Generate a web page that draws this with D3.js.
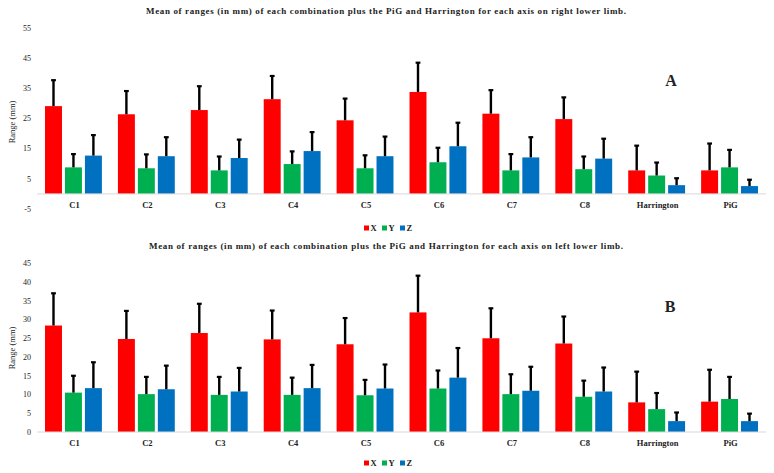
<!DOCTYPE html>
<html>
<head>
<meta charset="utf-8">
<script src="https://cdn.jsdelivr.net/npm/d3@7/dist/d3.min.js"></script>
<style>
  body { margin: 0; background: #fff; }
  text { font-family: "Liberation Serif", "DejaVu Serif", serif; fill: #222; }
  .title { font-weight: bold; font-size: 9px; }
  .tick-label { font-size: 8px; }
  .cat-label { font-size: 8.5px; font-weight: bold; }
  .legend-label { font-size: 8.5px; font-weight: bold; }
  .panel-tag { font-size: 16px; font-weight: bold; }
</style>
</head>
<body>
<svg id="chart" width="774" height="473"></svg>
<script>
const categories = ['C1', 'C2', 'C3', 'C4', 'C5', 'C6', 'C7', 'C8', 'Harrington', 'PiG']
const axes = ['X', 'Y', 'Z']
const colors = ['#ff0000', '#00b050', '#0070c0']

// panel A, right lower limb: means and upper error (SD)
const rightX = [29.1, 26.4, 27.8, 31.4, 24.4, 33.8, 26.6, 24.8, 7.8, 7.8]
const rightY = [8.8, 8.5, 7.8, 9.9, 8.5, 10.5, 7.8, 8.2, 6.1, 8.8]
const rightZ = [12.7, 12.5, 11.9, 14.2, 12.5, 15.8, 12.1, 11.7, 2.9, 2.6]
const rightXErr = [8.6, 7.7, 7.9, 7.7, 7.2, 9.7, 7.8, 7.2, 8.2, 8.9]
const rightYErr = [4.4, 4.6, 4.6, 4.2, 4.3, 4.8, 5.4, 4.2, 4.3, 5.8]
const rightZErr = [6.8, 6.3, 6.1, 6.3, 6.5, 7.8, 6.7, 6.6, 2.3, 2.1]

// panel B, left lower limb
const leftX = [28.4, 24.8, 26.4, 24.7, 23.4, 31.9, 25.0, 23.6, 7.9, 8.1]
const leftY = [10.5, 10.1, 9.9, 9.9, 9.8, 11.6, 10.1, 9.4, 6.1, 8.8]
const leftZ = [11.7, 11.4, 10.8, 11.7, 11.6, 14.5, 11.0, 10.8, 2.9, 2.9]
const leftXErr = [8.6, 7.5, 7.8, 7.7, 7.0, 9.8, 8.0, 7.2, 8.2, 8.5]
const leftYErr = [4.5, 4.6, 4.8, 4.6, 4.1, 4.8, 5.3, 4.3, 4.3, 5.9]
const leftZErr = [6.9, 6.3, 6.3, 6.2, 6.4, 7.9, 6.4, 6.4, 2.3, 2.0]

const topTicks = [-5, 5, 15, 25, 35, 45, 55]
const bottomTicks = [0, 5, 10, 15, 20, 25, 30, 35, 40, 45]

let svg = d3.select('#chart')

function drawPanel (opts) {
  let g = svg.append('g')

  let x0 = d3.scaleBand().domain(categories)
    .range([37, 766]).paddingInner(0.22).paddingOuter(0.11)
  let x1 = d3.scaleBand().domain(axes)
    .range([0, x0.bandwidth()]).paddingInner(0.15)
  let y = d3.scaleLinear().domain(opts.domain).range(opts.range)

  // title
  g.append('text').attr('class', 'title')
    .attr('x', opts.titleX).attr('y', opts.titleY)
    .attr('textLength', opts.titleW).attr('lengthAdjust', 'spacing')
    .text(opts.title)

  // y ticks (no gridlines, just labels)
  g.selectAll('.tick-label').data(opts.ticks).enter()
    .append('text').attr('class', 'tick-label')
    .attr('x', 31).attr('y', (d) => y(d))
    .attr('dy', '0.35em').attr('text-anchor', 'end')
    .text((d) => d)

  g.append('text')
    .attr('transform', `translate(15,${opts.labelY}) rotate(-90)`)
    .attr('text-anchor', 'middle').attr('font-size', '8.5px')
    .text('Range (mm)')

  // bars
  let rows = []
  categories.forEach((c, i) => {
    axes.forEach((a, j) => {
      rows.push({cat: c, axis: a, k: j, v: opts.series[j][i], e: opts.errors[j][i]})
    })
  })

  g.selectAll('.bar').data(rows).enter()
    .append('rect').attr('class', 'bar')
    .attr('x', (d) => x0(d.cat) + x1(d.axis))
    .attr('width', x1.bandwidth())
    .attr('y', (d) => y(d.v))
    .attr('height', (d) => y(0) - y(d.v))
    .attr('fill', (d) => colors[d.k])

  // error bars, upper only
  let cx = (d) => x0(d.cat) + x1(d.axis) + x1.bandwidth() / 2
  g.selectAll('.err').data(rows).enter()
    .append('line').attr('class', 'err')
    .attr('x1', cx).attr('x2', cx)
    .attr('y1', (d) => y(d.v)).attr('y2', (d) => y(d.v + d.e))
    .attr('stroke', '#000').attr('stroke-width', 2.4)
  g.selectAll('.cap').data(rows).enter()
    .append('line').attr('class', 'cap')
    .attr('x1', (d) => cx(d) - 2.4).attr('x2', (d) => cx(d) + 2.4)
    .attr('y1', (d) => y(d.v + d.e)).attr('y2', (d) => y(d.v + d.e))
    .attr('stroke', '#000').attr('stroke-width', 2.2)

  // baseline
  g.append('line')
    .attr('x1', 37).attr('x2', 766)
    .attr('y1', y(0)).attr('y2', y(0))
    .attr('stroke', '#d9d9d9').attr('stroke-width', 1)

  g.selectAll('.cat-label').data(categories).enter()
    .append('text').attr('class', 'cat-label')
    .attr('x', (d) => x0(d) + x0.bandwidth() / 2 + 1)
    .attr('y', opts.catY).attr('text-anchor', 'middle')
    .text((d) => d)

  // legend
  let leg = g.append('g').attr('transform', `translate(364,${opts.legendY})`)
  axes.forEach((a, j) => {
    leg.append('rect').attr('x', j * 18).attr('y', -2.5)
      .attr('width', 5).attr('height', 5).attr('fill', colors[j])
    leg.append('text').attr('class', 'legend-label')
      .attr('x', j * 18 + 6.5).attr('y', 0).attr('dy', '0.35em')
      .text(a)
  })

  g.append('text').attr('class', 'panel-tag')
    .attr('x', opts.tagX).attr('y', opts.tagY)
    .attr('text-anchor', 'middle').attr('dy', '0.35em')
    .text(opts.tag)
}

drawPanel({
  title: 'Mean of ranges (in mm) of each combination plus the PiG and Harrington for each axis on right lower limb.',
  titleX: 146, titleY: 14, titleW: 480,
  domain: [-5, 55], range: [209, 28], ticks: topTicks,
  series: [rightX, rightY, rightZ], errors: [rightXErr, rightYErr, rightZErr],
  labelY: 122, catY: 208, legendY: 228,
  tag: 'A', tagX: 671, tagY: 80
})

drawPanel({
  title: 'Mean of ranges (in mm) of each combination plus the PiG and Harrington for each axis on left lower limb.',
  titleX: 149, titleY: 248.5, titleW: 474,
  domain: [0, 45], range: [432, 263.3], ticks: bottomTicks,
  series: [leftX, leftY, leftZ], errors: [leftXErr, leftYErr, leftZErr],
  labelY: 348, catY: 446, legendY: 463,
  tag: 'B', tagX: 670, tagY: 306
})
</script>
</body>
</html>
